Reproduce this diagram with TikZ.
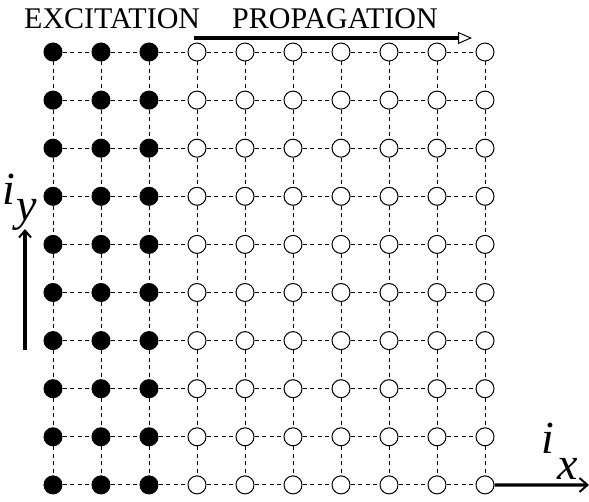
\documentclass[tikz,border=0pt]{standalone}
\usepackage{fontspec}
\setmainfont{Liberation Serif}
\usetikzlibrary{arrows.meta}
\tikzset{
  x=1pt, y=-1pt,
  dotfull/.style={circle, fill=black, draw=black, line width=1pt, minimum size=18pt, inner sep=0pt},
  dotopen/.style={circle, fill=white, draw=black, line width=1pt, minimum size=18pt, inner sep=0pt},
  gridline/.style={dash pattern=on 4pt off 3.5pt, line width=0.9pt},
  title/.style={font=\fontsize{30}{33}\selectfont, inner sep=0pt, anchor=base west},
  axislabel/.style={font=\fontsize{46}{50}\selectfont\itshape, inner sep=0pt, anchor=base west},
  bigarrow/.style={line width=3.2pt}
}
\begin{document}
\begin{tikzpicture}
\useasboundingbox (0,0) rectangle (589,502);
% grid nodes
\foreach \r in {0,...,9}{
  \foreach \c in {0,...,9}{
    \pgfmathsetmacro{\xx}{53+48*\c}
    \pgfmathsetmacro{\yy}{52+48.1*\r}
    \ifnum\c<3
      \node[dotfull] (d\r-\c) at (\xx,\yy) {};
    \else
      \node[dotopen] (d\r-\c) at (\xx,\yy) {};
    \fi
  }
}
% horizontal dashed lines
\foreach \r in {0,...,9}{
  \foreach \c [evaluate=\c as \n using int(\c+1)] in {0,...,8}{
    \draw[gridline] (d\r-\c) -- (d\r-\n);
  }
}
% vertical dashed lines
\foreach \c in {0,...,9}{
  \foreach \r [evaluate=\r as \n using int(\r+1)] in {0,...,8}{
    \draw[gridline] (d\r-\c) -- (d\n-\c);
  }
}
% titles
\node[title] (exc) at (24,28.5) {EXCITATION};
\node[title] (prop) at (232,28.5) {PROPAGATION};
% propagation arrow
\coordinate (pa) at (194,38);
\coordinate (pb) at (472,38);
\draw[bigarrow, -{Triangle[open, line width=1pt, length=14pt, width=12pt]}] (pa) -- (pb);
% iy arrow
\coordinate (ya) at (25,350);
\coordinate (yb) at (25,229);
\draw[bigarrow, -{Straight Barb[length=7pt, width=12pt, line width=2pt]}] (ya) -- (yb);
% ix arrow
\coordinate (xb) at (589,485);
\draw[bigarrow, -{Straight Barb[length=8pt, width=14pt, line width=2pt]}] (d9-9.east) -- (xb);
% axis labels
\node[axislabel] (iy) at (2,205) {i\kern2pt\raisebox{-16pt}{y}};
\node[axislabel] (ix) at (541,453) {i\kern4pt\raisebox{-27pt}{x}};
\end{tikzpicture}
\end{document}
